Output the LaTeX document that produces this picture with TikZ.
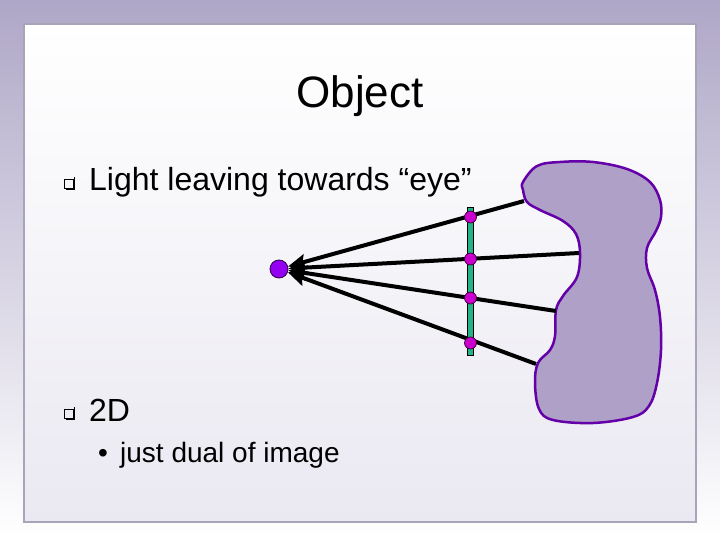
\documentclass[tikz,border=0pt]{standalone}
\usepackage{fontspec}
\setmainfont{Liberation Sans}
\usetikzlibrary{arrows.meta}

\definecolor{slidepurple}{HTML}{AFA7C7}
\definecolor{panelbottom}{HTML}{EAE8F1}
\definecolor{panelborder}{HTML}{A9A5B8}
\definecolor{blobfill}{HTML}{AFA0C8}
\definecolor{blobline}{HTML}{6400A8}
\definecolor{screengreen}{HTML}{22B487}
\definecolor{dotmagenta}{HTML}{CC00CC}
\definecolor{eyeviolet}{HTML}{9400F0}

\tikzset{
  ray/.style={line width=4pt, -{Stealth[length=18pt,width=15pt,inset=3pt]}},
  hitdot/.style={circle, draw=black!75!dotmagenta, fill=dotmagenta, line width=.7pt, inner sep=0pt, minimum size=12pt},
  sqbullet/.style={draw, line width=.7pt, minimum size=9pt, inner sep=0pt},
  slidetext/.style={anchor=base west, inner sep=0pt}
}

\begin{document}
\begin{tikzpicture}[x=1pt,y=-1pt]

    % slide background
    \shade[top color=slidepurple, bottom color=white]  (0,0) rectangle (720,540);
    \useasboundingbox (0,0) rectangle (720,540);
    \shade[top color=white, bottom color=panelbottom, draw=panelborder, line width=1.2pt]  (24,24) rectangle (696,522);

    \node[anchor=base] (title) at (360,108) {\fontsize{44}{50}\selectfont Object};

    \node[sqbullet] (q1) at (69,183.5) {};
    \draw[line width=1.6pt] (q1.south west)++(1.5,0.8) -| ([xshift=0.8pt,yshift=1.5pt]q1.north east);
    \node[slidetext] (light) at (89,191) {\fontsize{32}{38}\selectfont Light leaving towards “eye”};
    \node[sqbullet] (q2) at (69,413.5) {};
    \draw[line width=1.6pt] (q2.south west)++(1.5,0.8) -| ([xshift=0.8pt,yshift=1.5pt]q2.north east);
    \node[slidetext] (twod) at (89,421) {\fontsize{32}{38}\selectfont 2D};
    \node[slidetext] (dot) at (98,462) {\fontsize{28}{34}\selectfont\textbullet};
    \node[slidetext] (dual) at (120,462) {\fontsize{28}{34}\selectfont just dual of image};

    % the object
    \draw[blobline, fill=blobfill, line width=2.5pt] plot[smooth cycle, tension=.6] coordinates {
      (523,182) (537,166) (560,162) (593,162) (627,169) (650,182) (660,200) (661,217)
      (656,231) (647,248) (647,268) (655,290) (660,317) (661,350) (657,383) (649,406)
      (633,417) (593,423) (553,420) (539,409) (535,383) (538,363) (550,350) (555,336)
      (556,310) (563,296) (577,277) (580,253) (576,234) (563,221) (540,210) (527,202)
      (523,190)};

    \coordinate (o1) at (524,201);
    \coordinate (o2) at (579,253);
    \coordinate (o3) at (556,311);
    \coordinate (o4) at (536,364);

    \node[circle, draw=black!70!eyeviolet, fill=eyeviolet, line width=.8pt, inner sep=0pt, minimum size=18pt] (eye) at (279,269) {};

    \foreach \i in {1,...,4}
      \draw[ray] (o\i) -- (eye);

    % image plane
    \draw[fill=screengreen, line width=.7pt] (467.5,207) rectangle (473.5,355);
    \node[hitdot] (p1) at (470.5,217) {};
    \node[hitdot] (p2) at (470.5,259) {};
    \node[hitdot] (p3) at (470.5,298) {};
    \node[hitdot] (p4) at (470.5,343) {};

\end{tikzpicture}
\end{document}
